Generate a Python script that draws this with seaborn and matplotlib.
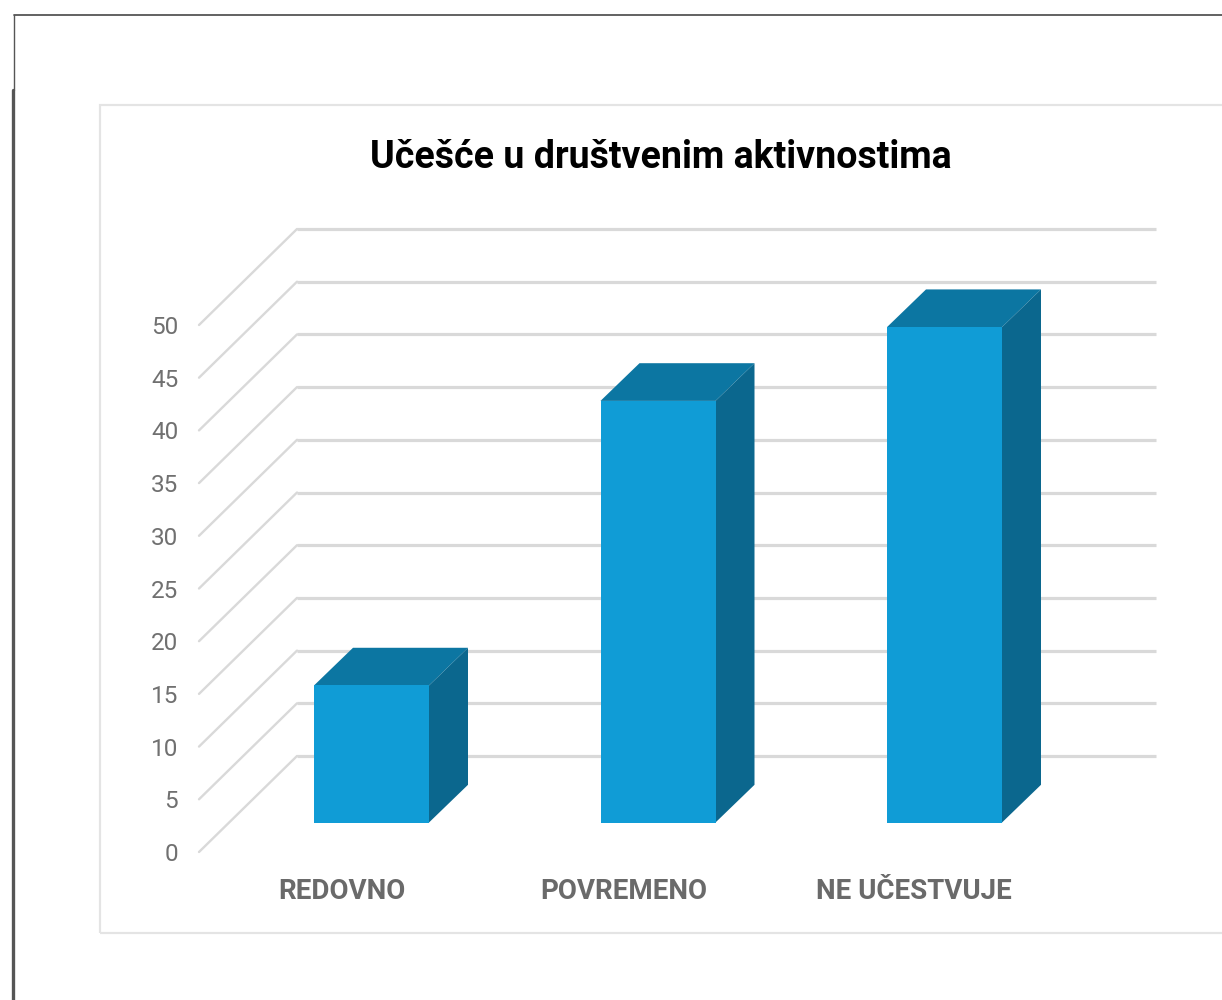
import matplotlib
matplotlib.use("Agg")
import matplotlib.pyplot as plt
import numpy as np
import seaborn as sns
from matplotlib.lines import Line2D
from matplotlib.patches import Rectangle

categories = ["REDOVNO", "POVREMENO", "NE UČESTVUJE"]
values = [13, 40, 47]
y_ticks = [0, 5, 10, 15, 20, 25, 30, 35, 40, 45, 50]
title = "Učešće u društvenim aktivnostima"

W, H = 1222, 1000

sns.set_theme(style="white")
plt.rcParams["font.family"] = ["Roboto", "Liberation Sans", "DejaVu Sans"]

fig = plt.figure(figsize=(W / 100, H / 100), dpi=100, facecolor="white")


def px(x, y):
    # picture pixels to figure fractions
    return x / W, 1 - y / H


# axes box runs from the value 0 corner to the end of the back wall
left, right, top, bottom = 199, 1156, 229, 852
ax = fig.add_axes([left / W, 1 - bottom / H, (right - left) / W, (bottom - top) / H])

# outer page frame and inner chart frame
for xs, ys, lw, col in [
    ([14, 1222], [15, 15], 1.3, "#555555"),
    ([14, 14], [15, 90], 1.0, "#555555"),
    ([13, 13], [90, 1000], 2.4, "#555555"),
]:
    fig.add_artist(Line2D([x / W for x in xs], [1 - y / H for y in ys], lw=lw, color=col))
fig.add_artist(Rectangle(px(100, 933), (W + 20 - 100) / W, (933 - 105) / H, fill=False,
                         edgecolor="#E4E4E4", lw=1.6, transform=fig.transFigure))

UNIT = 10.54          # pixels per value unit
SLOT = 286.5          # pixels per category
WALL_X = 98 / SLOT    # depth of the floor, category units
WALL_Y = 96 / UNIT    # depth of the floor, value units
BAR_W = 115 / SLOT
BAR_DX = 39 / SLOT
BAR_DY = 37.7 / UNIT
BAR_BASE = 29.5 / UNIT

x_min = (left - 371.5) / SLOT
x_max = (right - 371.5) / SLOT

# front faces of the bars
sns.barplot(x=categories, y=values, ax=ax, color="#109CD6", saturation=1, width=BAR_W,
            bottom=BAR_BASE, linewidth=0, zorder=4)

ax.set_xlim(x_min, x_max)
ax.set_ylim(0, (bottom - top) / UNIT)

# back wall lines and floor diagonals
for v in y_ticks:
    ax.plot([x_min + WALL_X, x_max], [v + WALL_Y, v + WALL_Y], color="#D9D9D9", lw=2.3,
            solid_capstyle="butt", clip_on=False, zorder=1)
    ax.plot([x_min, x_min + WALL_X], [v, v + WALL_Y], color="#D9D9D9", lw=1.7,
            solid_capstyle="round", clip_on=False, zorder=1)

# top and side faces follow the values
for i, v in enumerate(values):
    x0, x1 = i - BAR_W / 2, i + BAR_W / 2
    y0, y1 = BAR_BASE, BAR_BASE + v
    ax.fill([x0, x1, x1 + BAR_DX, x0 + BAR_DX], [y1, y1, y1 + BAR_DY, y1 + BAR_DY],
            color="#0C76A2", lw=0, zorder=3, clip_on=False)
    ax.fill([x1, x1 + BAR_DX, x1 + BAR_DX, x1], [y0, y0 + BAR_DY, y1 + BAR_DY, y1],
            color="#0B678E", lw=0, zorder=3, clip_on=False)

ax.set_yticks(y_ticks)
ax.set_yticklabels([str(t) for t in y_ticks])
# category labels sit on the front edge of the floor, left of the bars
ax.set_xticks(np.arange(len(categories)) - np.array([0.103, 0.118, 0.106]))
ax.set_xticklabels(categories)
ax.tick_params(axis="y", length=0, pad=15, labelsize=17.5, labelcolor="#707070")
ax.tick_params(axis="x", length=0, pad=19, labelsize=20, labelcolor="#6A6A6A")
for lab in ax.get_xticklabels():
    lab.set_fontweight("bold")
ax.set_xlabel("")
ax.set_ylabel("")
ax.grid(False)
ax.patch.set_alpha(0)
sns.despine(ax=ax, left=True, bottom=True)

fx, fy = px(661, 158)
fig.text(fx, fy, title, ha="center", va="center", fontsize=27, fontweight="bold", color="black")

fig.savefig("out.png", dpi=100)
